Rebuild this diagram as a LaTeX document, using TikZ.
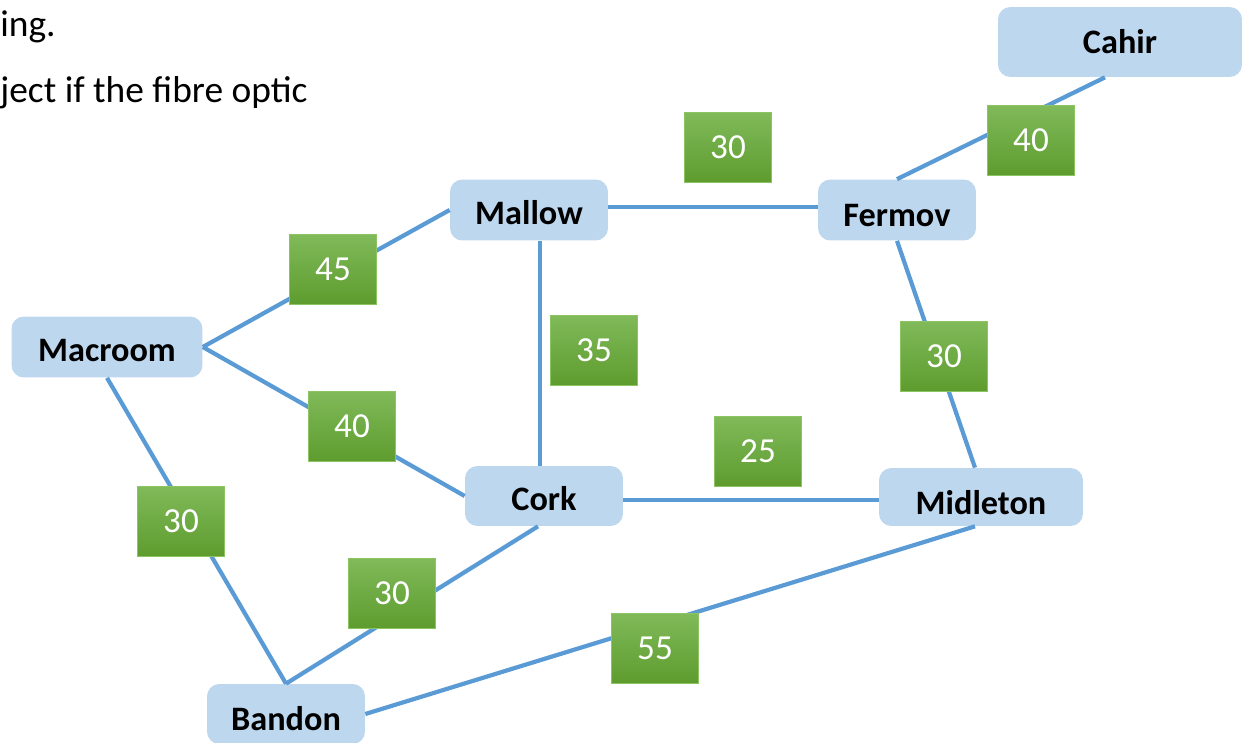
\documentclass[tikz,border=0pt]{standalone}
\usepackage{fontspec}
\setmainfont{Carlito}
\usetikzlibrary{positioning}
\definecolor{townblue}{RGB}{189,215,238}
\definecolor{linkblue}{RGB}{91,155,213}
\definecolor{costtop}{RGB}{128,186,90}
\definecolor{costbot}{RGB}{94,156,46}
\definecolor{costedge}{RGB}{140,196,100}
\tikzset{
	town/.style={
		rectangle, rounded corners=7pt,
		fill=townblue, draw=none,
		text=black,
		font=\fontsize{19.5}{22}\selectfont\bfseries,
		text height=17pt, text depth=0pt,
		minimum width=3.16cm, minimum height=1.22cm
	},
	link/.style={draw=linkblue, line width=2.4pt},
	cost/.style={
		rectangle,
		top color=costtop, bottom color=costbot,
		draw=costedge, thin,
		text=white,
		font=\fontsize{20}{22}\selectfont,
		minimum width=1.74cm, minimum height=1.4cm
	},
	note/.style={anchor=base west, inner sep=0pt, font=\fontsize{21.3}{24}\selectfont}
}

\begin{document}
\begin{tikzpicture}[x=0.02cm,y=-0.02cm]
	\useasboundingbox (0,0) rectangle (1249,743);
	% cut-off lines of text
	\node[note] (line1) at (0,37)  {ing.};
	\node[note] (line2) at (0,103) {ject if the fibre optic};
	% towns
	\node[town, minimum width=4.88cm, minimum height=1.4cm, text height=13pt] (Cahir) at (1120,42) {Cahir};
	\node[town] (Mallow)   at (529,210) {Mallow};
	\node[town, text height=19pt] (Fermov)   at (897,210) {Fermov};
	\node[town, minimum width=3.82cm] (Macroom) at (107,347) {Macroom};
	\node[town, minimum height=1.2cm] (Cork) at (544,496) {Cork};
	\node[town, minimum width=4.08cm, minimum height=1.16cm, text height=20pt] (Midleton) at (981,497) {Midleton};
	\node[town, minimum height=1.2cm, text height=19pt] (Bandon) at (286,714) {Bandon};
	% links
	\begin{scope}
	\draw[link] (Macroom.east) -- (Mallow.west);
	\draw[link] (Macroom.east) -- (Cork.west);
	\draw[link] (Macroom.south) -- (Bandon.north);
	\draw[link] ([yshift=0.06cm]Mallow.east) -- ([yshift=0.06cm]Fermov.west);
	\draw[link] ([xshift=-0.08cm]Cork.north |- Mallow.south) -- ([xshift=-0.08cm]Cork.north);
	\draw[link] (Fermov.north) -- ([xshift=-0.3cm]Cahir.south);
	\draw[link] (Fermov.south) -- ([xshift=-0.12cm]Midleton.north);
	\draw[link] ([yshift=-0.08cm]Cork.east) -- ([yshift=-0.08cm]Cork.east -| Midleton.west);
	\draw[link] ([xshift=-0.12cm]Cork.south) -- (Bandon.north);
	\draw[link] (Bandon.east) -- ([xshift=-0.12cm]Midleton.south);
	\end{scope}
	% costs
	\node[cost] (cMF) at (728,147)  {30};
	\node[cost] (cFC) at (1031,140) {40};
	\node[cost] (cMM) at (333,269)  {45};
	\node[cost] (cMC) at (594,350)  {35};
	\node[cost] (cFM) at (944,356)  {30};
	\node[cost] (cMk) at (352,426)  {40};
	\node[cost] (cCM) at (758,451)  {25};
	\node[cost] (cMB) at (181,521)  {30};
	\node[cost] (cCB) at (392,593)  {30};
	\node[cost] (cBM) at (655,648)  {55};
\end{tikzpicture}
\end{document}
